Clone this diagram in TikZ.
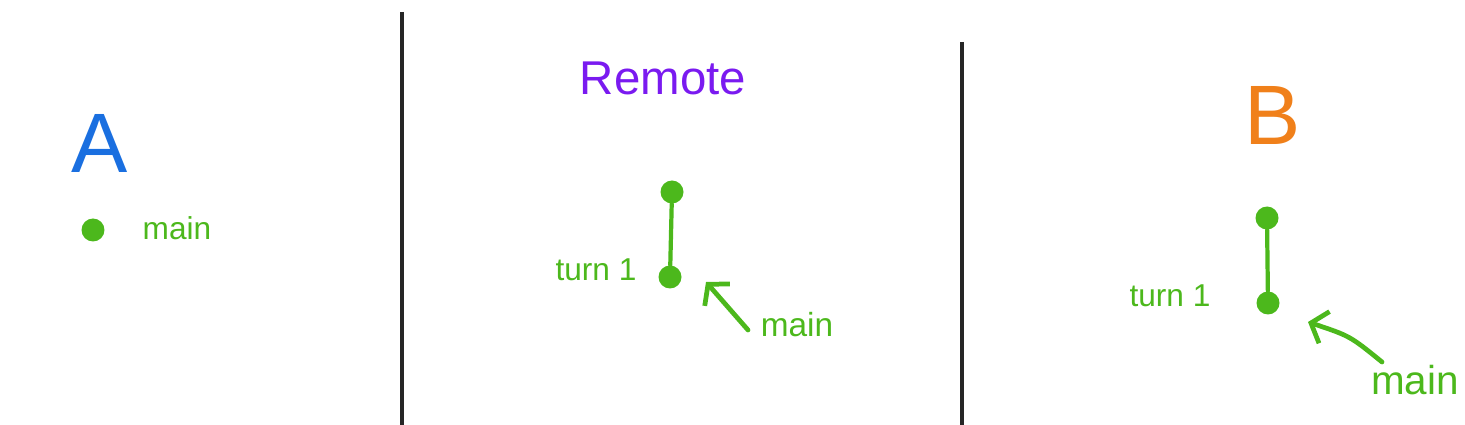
\documentclass[tikz,border=0pt]{standalone}
\usepackage{fontspec}
\setmainfont{Liberation Sans}
\usetikzlibrary{arrows.meta}
\definecolor{sketchgreen}{HTML}{4CB81C}
\definecolor{sketchblue}{HTML}{1A6FE0}
\definecolor{sketchpurple}{HTML}{7A1AF0}
\definecolor{sketchorange}{HTML}{F0801A}
\tikzset{
  commit/.style={circle,fill=sketchgreen,inner sep=0pt,minimum size=0.46cm},
  branch/.style={text=sketchgreen,inner sep=0pt},
  link/.style={draw=sketchgreen,line width=2.4pt,line cap=round},
  pointer/.style={link,line width=2.7pt,-{Straight Barb[length=8pt,width=19pt,line width=2.7pt]}},
  divider/.style={draw=black!85,line width=1.8pt},
}
\begin{document}
\begin{tikzpicture}[x=0.02cm,y=-0.02cm]
\useasboundingbox (0,0) rectangle (1465,425);
% dividers
\draw[divider] (402,12) -- (402,425);
\draw[divider] (962,42) -- (962,425);
% A
\node[text=sketchblue,font=\fontsize{48}{48}\selectfont] (titleA) at (100,143) {A};
\node[commit] (mainA) at (93,230) {};
\node[branch,font=\fontsize{18}{18}\selectfont] (labelA) at (177,228) {main};
% Remote
\node[text=sketchpurple,font=\fontsize{27}{27}\selectfont] (titleR) at (663,78) {Remote};
\node[commit] (tipR) at (672,192) {};
\node[commit] (baseR) at (670,277) {};
\node[branch,font=\fontsize{18}{18}\selectfont] (turnR) at (596,270) {turn 1};
\node[branch,font=\fontsize{19}{19}\selectfont] (labelR) at (797,325) {main};
\coordinate (fromR) at (748,330);
\coordinate (toR) at (706,282);
\draw[link] (tipR) -- (baseR);
\draw[pointer] (fromR) -- (toR);
% B
\node[text=sketchorange,font=\fontsize{48}{48}\selectfont] (titleB) at (1273,115) {B};
\node[commit] (tipB) at (1267,218) {};
\node[commit] (baseB) at (1268,303) {};
\node[branch,font=\fontsize{18}{18}\selectfont] (turnB) at (1170,296) {turn 1};
\node[branch,font=\fontsize{23}{23}\selectfont] (labelB) at (1415,380) {main};
\coordinate (fromB) at (1382,362);
\coordinate (toB) at (1308,322);
\draw[link] (tipB) -- (baseB);
\draw[pointer] (fromB) .. controls (1350,336) .. (toB);
\end{tikzpicture}
\end{document}
